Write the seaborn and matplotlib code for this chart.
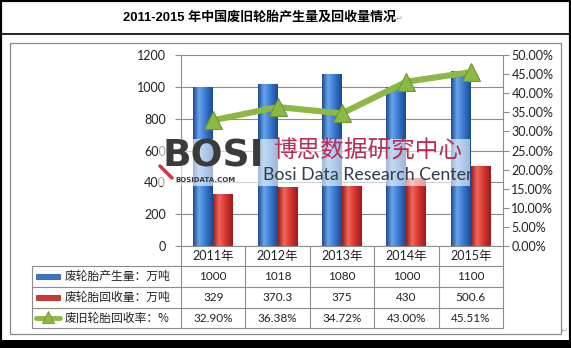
import matplotlib
matplotlib.use('Agg')
import matplotlib.pyplot as plt
import seaborn as sns
import pandas as pd
import numpy as np
from matplotlib.patches import Rectangle
from matplotlib.lines import Line2D
from matplotlib.ticker import FuncFormatter
from matplotlib.colors import LinearSegmentedColormap

# ---- data ----
years = ['2011年', '2012年', '2013年', '2014年', '2015年']
production = [1000, 1018, 1080, 1000, 1100]          # 万吨
recycled = [329, 370.3, 375, 430, 500.6]              # 万吨
rate = [32.90, 36.38, 34.72, 43.00, 45.51]            # %
series_names = ['废轮胎产生量：万吨', '废轮胎回收量：万吨', '废旧轮胎回收率：%']
production_labels = ['1000', '1018', '1080', '1000', '1100']
recycled_labels = ['329', '370.3', '375', '430', '500.6']
rate_labels = [f'{v:.2f}%' for v in rate]
left_ticks = [0, 200, 400, 600, 800, 1000, 1200]
right_ticks = [0, 5, 10, 15, 20, 25, 30, 35, 40, 45, 50]
title = '2011-2015 年中国废旧轮胎产生量及回收量情况'

BLUE = '#2f6dc0'
RED = '#d3322f'
BLUE_SHADES = ['#1c4a90', '#6aa4ea', '#3577cf', '#1c4a90']
RED_SHADES = ['#9a1c1a', '#f0685c', '#d5342f', '#9a1c1a']
GREEN = '#8db843'
GREEN_DARK = '#6f9632'
GRID = '#8c8c8c'
TXT = '#222222'

sns.set_theme(style='white')
plt.rcParams['font.family'] = ['Lato', 'Noto Sans CJK SC', 'DejaVu Sans']

W, H = 571, 348
fig = plt.figure(figsize=(W / 100, H / 100), dpi=100)
fig.patch.set_facecolor('white')


def fx(px):
    return px / W


def fy(py):
    return 1 - py / H


def fline(x0, y0, x1, y1, color=GRID, lw=0.8, z=5):
    fig.add_artist(Line2D([fx(x0), fx(x1)], [fy(y0), fy(y1)], transform=fig.transFigure,
                          color=color, lw=lw, zorder=z))


def frect(x0, y0, x1, y1, **kw):
    fig.add_artist(Rectangle((fx(x0), fy(y1)), fx(x1) - fx(x0), fy(y0) - fy(y1),
                             transform=fig.transFigure, **kw))


# ---- frames ----
frect(0, 0, W, H, fill=False, edgecolor='black', lw=3, zorder=10)
frect(0, 340, W, H, facecolor='black', edgecolor='none', zorder=10)
fline(0, 33.5, W, 33.5, color='black', lw=1.2, z=10)
frect(10, 43, 561, 334, fill=False, edgecolor='#8a8a8a', lw=0.9, zorder=1)

fig.text(fx(260), fy(17.5), title, ha='center', va='center', fontsize=9.4, fontweight='bold',
         family=['Liberation Sans', 'Noto Sans CJK SC'], color='black')
fig.text(fx(396), fy(18.5), '↵', ha='left', va='center', fontsize=6, color='#aaaaaa',
         family=['DejaVu Sans'])
fig.text(fx(561), fy(330), '↵', ha='left', va='center', fontsize=6, color='#aaaaaa',
         family=['DejaVu Sans'])

# ---- plot area ----
L, R, T, B = 181, 503, 55, 246
ax = fig.add_axes([fx(L), fy(B), fx(R) - fx(L), fy(T) - fy(B)])
ax.set_zorder(2)
ax.patch.set_alpha(0)

df = pd.DataFrame({
    'year': years * 2,
    'series': [series_names[0]] * len(years) + [series_names[1]] * len(years),
    'value': production + recycled,
})
sns.barplot(data=df, x='year', y='value', hue='series', palette=[BLUE, RED],
            width=0.62, gap=0, saturation=1, legend=False, ax=ax, linewidth=0)

# cylinder-like shading on each bar
grad = np.linspace(0, 1, 64).reshape(1, -1)
n = len(years)
for i, bar in enumerate(ax.patches[:2 * n]):
    shades = BLUE_SHADES if i < n else RED_SHADES
    cmap = LinearSegmentedColormap.from_list('shade', list(zip([0, 0.3, 0.65, 1], shades)))
    x0, y0 = bar.get_x(), bar.get_y()
    w, h = bar.get_width(), bar.get_height()
    im = ax.imshow(grad, extent=[x0, x0 + w, y0, y0 + h], aspect='auto', cmap=cmap,
                   interpolation='bilinear', zorder=bar.get_zorder() + 0.1)
    im.set_clip_path(bar)

ax.set_xlim(-0.5, n - 0.5)
ax.set_ylim(0, 1200)
ax.set_yticks(left_ticks)
ax.yaxis.grid(True, color=GRID, lw=0.8)
ax.set_axisbelow(True)
ax.set_xlabel('')
ax.set_ylabel('')
for s in ['top', 'right']:
    ax.spines[s].set_visible(False)
for s in ['left', 'bottom']:
    ax.spines[s].set_color(GRID)
    ax.spines[s].set_linewidth(0.8)
ax.tick_params(axis='y', direction='out', length=4, width=0.8, color=GRID,
               labelsize=9, labelcolor=TXT, pad=7, left=True)
ax.tick_params(axis='x', length=0, labelsize=9, labelcolor=TXT, pad=3)

ax2 = ax.twinx()
sns.lineplot(x=np.arange(n), y=rate, ax=ax2, color=GREEN, lw=4.4,
             marker='^', markersize=12.5, markerfacecolor=GREEN,
             markeredgecolor=GREEN_DARK, markeredgewidth=0.8)
ax2.set_ylim(0, 50)
ax2.set_yticks(right_ticks)
ax2.yaxis.set_major_formatter(FuncFormatter(lambda v, p: f'{v:.2f}%'))
for s in ['top', 'left', 'bottom']:
    ax2.spines[s].set_visible(False)
ax2.spines['right'].set_color(GRID)
ax2.spines['right'].set_linewidth(0.8)
ax2.tick_params(axis='y', direction='out', length=4, width=0.8, color=GRID,
                labelsize=9, labelcolor=TXT, pad=2, right=True)
ax2.grid(False)

# ---- data table ----
rows = [266, 287, 308, 328]
col_w = (R - L) / n
for y in rows:
    fline(32, y, R, y)
fline(32, rows[0], 32, rows[-1])
for k in range(n + 1):
    fline(L + k * col_w, B, L + k * col_w, rows[-1])

row_vals = [production_labels, recycled_labels, rate_labels]
for r, vals in enumerate(row_vals):
    yc = (rows[r] + rows[r + 1]) / 2
    for k, v in enumerate(vals):
        fig.text(fx(L + (k + 0.5) * col_w), fy(yc), v, ha='center', va='center',
                 fontsize=8.5, color=TXT)
    fig.text(fx(65), fy(yc), series_names[r], ha='left', va='center', fontsize=8.5,
             color=TXT, family=['Noto Sans CJK SC'])

# legend keys
for r, shades in [(0, BLUE_SHADES), (1, RED_SHADES)]:
    yc = (rows[r] + rows[r + 1]) / 2
    frect(36, yc - 2.5, 60, yc + 2.5, facecolor=shades[2], edgecolor=shades[0], lw=0.5, zorder=5)
yc = (rows[2] + rows[3]) / 2
fig.add_artist(Line2D([fx(36), fx(60)], [fy(yc), fy(yc)], transform=fig.transFigure,
                      color=GREEN, lw=3.5, zorder=5))
fig.add_artist(Line2D([fx(48)], [fy(yc - 1)], transform=fig.transFigure, marker='^',
                      markersize=8, color=GREEN, markeredgecolor=GREEN_DARK,
                      markeredgewidth=0.6, zorder=6))

# ---- watermark ----
frect(158, 139, 470, 186, facecolor='white', alpha=0.6, edgecolor='none', zorder=8)
fig.text(fx(213), fy(157), 'BOSI', ha='center', va='center', fontsize=27, fontweight='bold',
         color='#3b3b3b', family=['DejaVu Sans'], zorder=9)
fig.add_artist(Line2D([fx(160), fx(172)], [fy(166), fy(178)], transform=fig.transFigure,
                      color='#d0334a', lw=2.5, zorder=9))
fig.text(fx(205), fy(180), 'BOSIDATA.COM', ha='center', va='center', fontsize=5, fontweight='bold',
         color='#3b3b3b', family=['DejaVu Sans'], zorder=9)
fig.text(fx(368), fy(150), '博思数据研究中心', ha='center', va='center', fontsize=17,
         color='#b82d52', family=['Noto Sans CJK SC'], zorder=9)
fig.text(fx(368), fy(175), 'Bosi Data Research Center', ha='center', va='center', fontsize=12.8,
         color='#2f3d4c', family=['Lato'], zorder=9)

fig.savefig('out.png', dpi=100, facecolor='white')
